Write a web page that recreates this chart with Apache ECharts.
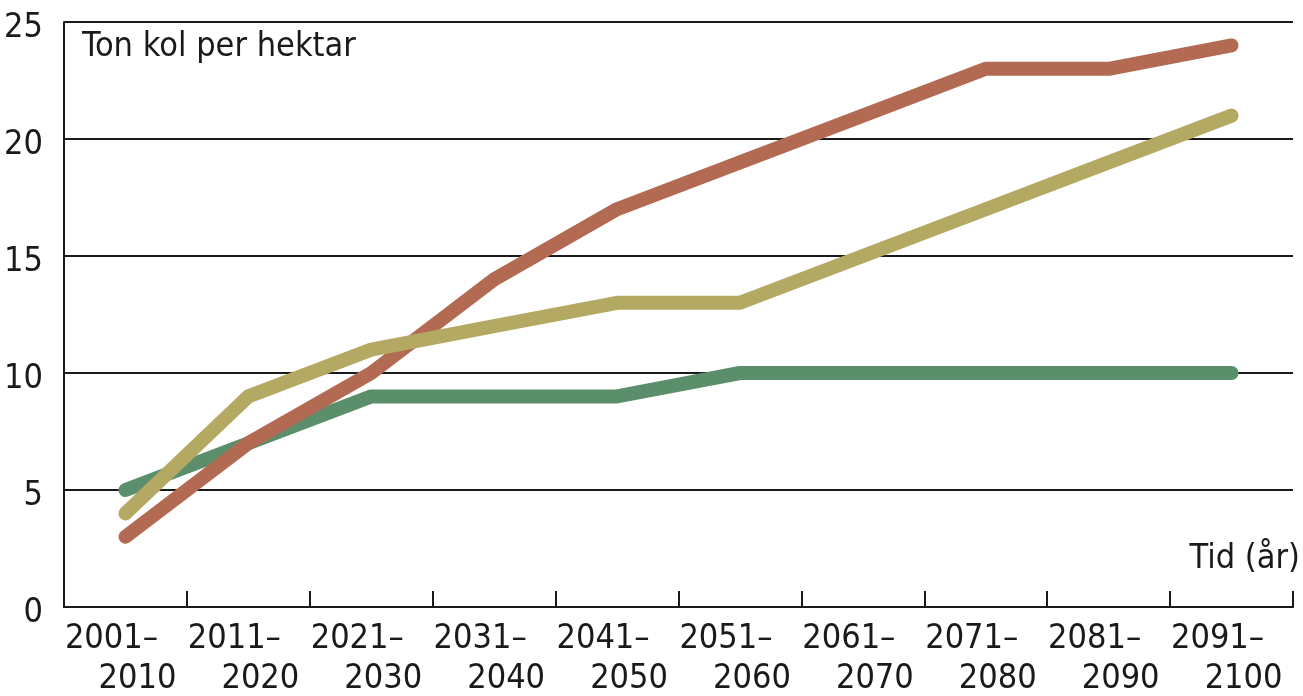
<!DOCTYPE html>
<html>
<head>
<meta charset="utf-8">
<script src="https://cdn.jsdelivr.net/npm/echarts@6/dist/echarts.min.js"></script>
<style>
  html, body { margin: 0; padding: 0; background: #fff; }
  #chart { width: 1303px; height: 696px; }
</style>
</head>
<body>
<div id="chart"></div>
<script>
// Decades on the x axis (two-line labels: start year, end year)
const decadeStart = ['2001', '2011', '2021', '2031', '2041', '2051', '2061', '2071', '2081', '2091'];
const decadeEnd   = ['2010', '2020', '2030', '2040', '2050', '2060', '2070', '2080', '2090', '2100'];

// Carbon stock, tonnes per hectare
const carbonGreen = [5, 7, 9, 9, 9, 10, 10, 10, 10, 10];
const carbonRed   = [3, 7, 10, 14, 17, 19, 21, 23, 23, 24];
const carbonOlive = [4, 9, 11, 12, 13, 13, 15, 17, 19, 21];

const yTicks = [0, 5, 10, 15, 20, 25];

const categories = decadeStart.map((s, i) => s + '–\n' + decadeEnd[i]);

const FONT = "'Liberation Sans Narrow', 'DejaVu Sans Condensed', 'Arial Narrow', sans-serif";
const FONT_SIZE = 34;
const INK = '#1a1a1a';

const chart = echarts.init(document.getElementById('chart'), null, { renderer: 'canvas' });

function lineSeries(name, data, color) {
  return {
    name: name,
    type: 'line',
    data: data,
    symbol: 'none',
    smooth: false,
    lineStyle: { color: color, width: 14, cap: 'round', join: 'round' },
    emphasis: { disabled: true }
  };
}

chart.setOption({
  animation: false,
  backgroundColor: '#ffffff',
  grid: { left: 64, right: 10, top: 22, bottom: 88, containLabel: false },
  xAxis: {
    type: 'category',
    data: categories,
    boundaryGap: true,
    axisLine: { show: true, lineStyle: { color: INK, width: 2 } },
    axisTick: { show: true, inside: true, length: 16, lineStyle: { color: INK, width: 2 } },
    axisLabel: {
      interval: 0,
      margin: 12,
      formatter: function (v) {
        const parts = v.split('\n');
        return '{a|' + parts[0] + '}\n{b|' + parts[1] + '}';
      },
      rich: {
        a: { fontFamily: FONT, fontSize: FONT_SIZE, color: INK, lineHeight: 40, padding: [0, 28, 0, 0] },
        b: { fontFamily: FONT, fontSize: FONT_SIZE, color: INK, lineHeight: 40, padding: [0, 0, 0, 24] }
      }
    },
    splitLine: { show: false }
  },
  yAxis: {
    type: 'value',
    min: yTicks[0],
    max: yTicks[yTicks.length - 1],
    interval: yTicks[1] - yTicks[0],
    axisLine: { show: true, lineStyle: { color: INK, width: 2 } },
    axisTick: { show: false },
    axisLabel: {
      margin: 21,
      fontFamily: FONT,
      fontSize: FONT_SIZE,
      color: INK,
      // numbers sit a little below their grid line
      verticalAlign: 'top',
      lineHeight: 12
    },
    splitLine: { show: true, lineStyle: { color: INK, width: 2 } }
  },
  graphic: [
    {
      type: 'text',
      x: 82, y: 47,
      style: {
        text: 'Ton kol per hektar',
        font: FONT_SIZE + 'px ' + FONT,
        fill: INK,
        textAlign: 'left',
        textVerticalAlign: 'middle'
      }
    },
    {
      type: 'text',
      x: 1300, y: 559,
      style: {
        text: 'Tid (år)',
        font: FONT_SIZE + 'px ' + FONT,
        fill: INK,
        textAlign: 'right',
        textVerticalAlign: 'middle'
      }
    }
  ],
  series: [
    lineSeries('Serie 1', carbonGreen, '#5b8e6b'),
    lineSeries('Serie 2', carbonRed, '#b26a53'),
    lineSeries('Serie 3', carbonOlive, '#b4a962')
  ]
});
</script>
</body>
</html>
